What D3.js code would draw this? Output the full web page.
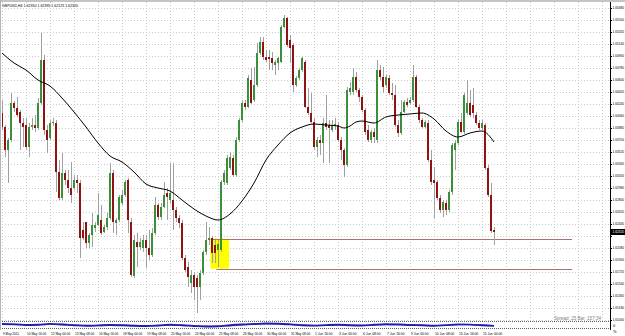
<!DOCTYPE html>
<html>
<head>
<meta charset="utf-8">
<script src="https://cdn.jsdelivr.net/npm/d3@7"></script>
<style>
html, body { margin: 0; padding: 0; background: #ffffff; }
svg { display: block; font-family: "Liberation Sans", Arial, sans-serif; }
</style>
</head>
<body>
<div id="chart"></div>
<script>
// GBPUSD H4, 9 May 2011 .. 15 Jun 2011
var symbol = 'GBPUSD,H4';
var open = [1.64105,1.63895,1.6355,1.637,1.64255,1.6418,1.6412,1.63955,1.63925,1.63595,1.63895,1.63925,1.6388,1.64255,1.649,1.6385,1.6373,1.63955,1.63955,1.6322,1.6283,1.63205,1.631,1.6298,1.6298,1.631,1.63055,1.6235,1.6247,1.62155,1.62275,1.6238,1.62425,1.625,1.6232,1.62395,1.6253,1.63205,1.62455,1.625,1.62755,1.62875,1.631,1.6247,1.6166,1.6217,1.62095,1.6208,1.622,1.6208,1.61975,1.62305,1.62725,1.62545,1.62695,1.62905,1.628,1.628,1.6265,1.6253,1.62455,1.6193,1.61795,1.61555,1.61675,1.6163,1.61495,1.61705,1.6202,1.622,1.6223,1.62125,1.6205,1.6205,1.6307,1.63055,1.6328,1.6343,1.63175,1.637,1.64,1.64255,1.64195,1.646,1.643,1.64525,1.65005,1.6517,1.64945,1.64945,1.6493,1.64825,1.64855,1.6487,1.65395,1.6553,1.652,1.65125,1.64525,1.6463,1.6475,1.6487,1.64195,1.64105,1.6397,1.63595,1.637,1.63655,1.63955,1.63925,1.6385,1.6391,1.63925,1.637,1.6355,1.63325,1.6442,1.6442,1.64645,1.6445,1.64345,1.6415,1.6385,1.637,1.6382,1.637,1.6475,1.64645,1.64525,1.6463,1.64405,1.64375,1.63925,1.63805,1.6412,1.6427,1.64255,1.643,1.64645,1.64195,1.64,1.63895,1.63955,1.634,1.631,1.6307,1.6283,1.6265,1.62755,1.6265,1.6292,1.6355,1.63655,1.6397,1.6382,1.64105,1.64255,1.64225,1.64075,1.63955,1.6388,1.63925,1.6328,1.62875,1.6235];
var high = [1.643,1.63925,1.6373,1.64405,1.64285,1.64345,1.6415,1.6403,1.6403,1.63955,1.6403,1.64075,1.6433,1.65305,1.64975,1.63925,1.64,1.6403,1.64,1.634,1.63505,1.6325,1.6325,1.6337,1.63175,1.63175,1.631,1.6247,1.6247,1.62305,1.62605,1.6247,1.62905,1.62725,1.62425,1.62605,1.63355,1.6325,1.6253,1.62875,1.6295,1.631,1.6313,1.6253,1.62275,1.62305,1.6223,1.62275,1.62275,1.6235,1.6238,1.62845,1.62755,1.62755,1.6307,1.6298,1.63355,1.63355,1.62695,1.62575,1.625,1.61975,1.6187,1.6175,1.6172,1.61675,1.6175,1.6205,1.6247,1.62395,1.6226,1.622,1.622,1.631,1.6325,1.63475,1.6352,1.63475,1.63745,1.6403,1.643,1.643,1.64675,1.6478,1.64795,1.65155,1.65245,1.65245,1.6505,1.6505,1.6502,1.649,1.64945,1.65425,1.65575,1.65545,1.65275,1.65155,1.6466,1.6478,1.64945,1.649,1.6448,1.64405,1.6403,1.63745,1.63775,1.6403,1.64375,1.64,1.64,1.6403,1.6397,1.63745,1.6358,1.64495,1.6457,1.6478,1.6472,1.6448,1.64375,1.6418,1.63925,1.6385,1.6388,1.649,1.64825,1.64795,1.64675,1.64675,1.64555,1.64525,1.64,1.643,1.643,1.6433,1.64345,1.64825,1.64675,1.64225,1.6403,1.64,1.64,1.6355,1.63295,1.631,1.62875,1.628,1.628,1.6295,1.63655,1.637,1.64,1.64105,1.64405,1.646,1.6445,1.6448,1.6412,1.64,1.64,1.63955,1.63325,1.63055,1.62395];
var low = [1.6385,1.63445,1.63055,1.6367,1.6412,1.64045,1.6355,1.63595,1.6355,1.63445,1.6385,1.6382,1.6385,1.64225,1.63775,1.63505,1.637,1.6391,1.6292,1.628,1.628,1.63025,1.62905,1.62755,1.6295,1.62905,1.6193,1.622,1.6208,1.6208,1.62095,1.6232,1.6241,1.62275,1.62305,1.6235,1.625,1.62305,1.62275,1.6247,1.62725,1.62845,1.62305,1.61645,1.6163,1.61795,1.6205,1.6202,1.6178,1.619,1.61945,1.62275,1.625,1.625,1.6268,1.625,1.62755,1.6235,1.6247,1.6238,1.619,1.6172,1.61495,1.61405,1.613,1.61105,1.613,1.61675,1.61975,1.62125,1.61855,1.61855,1.61795,1.6202,1.63025,1.63025,1.6325,1.63145,1.63145,1.6367,1.6397,1.6415,1.6418,1.6424,1.6427,1.64495,1.64975,1.649,1.6487,1.6475,1.6475,1.64675,1.6475,1.64855,1.6538,1.65095,1.64855,1.6442,1.64495,1.646,1.6472,1.6418,1.64075,1.63955,1.6355,1.63445,1.63475,1.63355,1.6385,1.63355,1.6382,1.6385,1.6367,1.634,1.63145,1.63295,1.64375,1.64375,1.6442,1.6427,1.6412,1.63775,1.6367,1.63655,1.63655,1.63655,1.646,1.64405,1.6448,1.64375,1.643,1.63895,1.63745,1.63775,1.64105,1.64195,1.64225,1.6427,1.6418,1.63955,1.6388,1.6388,1.6337,1.63025,1.6253,1.628,1.62605,1.62545,1.62575,1.6262,1.62875,1.6325,1.63625,1.63805,1.6379,1.64075,1.64045,1.6403,1.63925,1.6385,1.6385,1.6325,1.62845,1.62305,1.62125];
var close = [1.63895,1.6355,1.637,1.64255,1.6418,1.64075,1.63955,1.63895,1.63595,1.63895,1.63925,1.6388,1.64255,1.649,1.6385,1.637,1.63955,1.6397,1.6322,1.6283,1.63205,1.631,1.6298,1.62875,1.631,1.63055,1.6223,1.6223,1.62155,1.62275,1.62425,1.62425,1.62575,1.62305,1.62395,1.6253,1.63205,1.6247,1.625,1.62845,1.62875,1.6307,1.625,1.61675,1.622,1.62095,1.6217,1.622,1.6208,1.61975,1.62305,1.62725,1.62545,1.62695,1.62875,1.62845,1.62905,1.6265,1.6253,1.62455,1.6193,1.6175,1.61645,1.61675,1.61495,1.61495,1.61705,1.6202,1.622,1.6223,1.62005,1.62005,1.6214,1.6307,1.63205,1.6343,1.63445,1.63175,1.637,1.64,1.64255,1.64195,1.6463,1.64255,1.64525,1.65005,1.6517,1.64945,1.649,1.64915,1.64855,1.6487,1.6493,1.65395,1.6553,1.65125,1.6508,1.64525,1.6463,1.6475,1.6493,1.64195,1.64105,1.6397,1.63595,1.637,1.63655,1.63955,1.63895,1.6388,1.63925,1.6394,1.637,1.6355,1.63325,1.6445,1.6448,1.64645,1.6445,1.64345,1.6415,1.6382,1.637,1.6382,1.63745,1.6475,1.64645,1.64495,1.64645,1.64405,1.64375,1.63925,1.63805,1.6412,1.6427,1.64225,1.643,1.64645,1.64195,1.64,1.63895,1.6397,1.634,1.6307,1.63055,1.6283,1.6265,1.6277,1.6265,1.6292,1.63625,1.63655,1.6397,1.6382,1.64375,1.64255,1.64075,1.64105,1.63955,1.6388,1.63955,1.6328,1.62875,1.62335,1.6232];

// moving average read at every 4th bar (plus two extra points)
var maBars = [0,4,8,12,16,20,24,28,32,36,40,44,48,52,56,60,64,68,72,76,80,84,88,92,96,100,104,108,112,114,116,118,120,124,128,132,136,140,144,148,152,156,160,164];
var maValues = [1.65005,1.64855,1.6475,1.646,1.6451,1.6433,1.6412,1.63895,1.63655,1.6346,1.6337,1.6322,1.6304,1.6298,1.62935,1.628,1.62665,1.6256,1.625,1.6259,1.62785,1.63055,1.634,1.63625,1.63805,1.63895,1.6394,1.63925,1.6391,1.6388,1.6391,1.6397,1.63985,1.63955,1.64045,1.64075,1.6409,1.64105,1.64015,1.63835,1.63745,1.63805,1.63835,1.6367];

// oscillator in the lower window, read at every 4th bar
var oscBars = [0,4,8,12,16,20,24,28,32,36,40,44,48,52,56,60,64,68,72,76,80,84,88,92,96,100,104,108,112,116,120,124,128,132,136,140,144,148,152,156,160,164];
var oscMain = [70,62,50,55,72,60,45,35,42,50,45,35,30,40,55,45,30,20,25,45,60,70,80,75,62,45,38,48,55,45,40,55,65,60,50,45,35,48,62,58,45,30];
var oscSignal = [60,66,58,52,62,66,55,42,38,46,48,42,34,36,46,50,40,28,22,34,50,62,72,78,70,55,42,44,50,50,44,48,58,62,56,48,40,42,54,60,52,40];

// price scale labels
var priceTicks = [1.6568,1.655,1.6532,1.6514,1.6496,1.6478,1.646,1.6442,1.6424,1.6406,1.6388,1.637,1.6352,1.6334,1.6316,1.6298,1.628,1.6262,1.6244,1.6226,1.6208,1.619,1.6172,1.6154,1.6136,1.6118,1.61];

// time scale labels, one every 8 bars
var timeLabels = ['9 May 2011','10 May 16:00','12 May 00:00','13 May 08:00','16 May 16:00','18 May 00:00','19 May 08:00','20 May 16:00','24 May 00:00','25 May 08:00','26 May 16:00','30 May 00:00','31 May 08:00','1 Jun 16:00','3 Jun 00:00','6 Jun 08:00','7 Jun 16:00','9 Jun 00:00','10 Jun 08:00','13 Jun 16:00','15 Jun 00:00'];

// support zone and its two levels
var zoneBars = [69.5, 75.7];
var zonePrices = [1.6222, 1.6177];
var levelStartBars = [69.5, 71.5];
var levelEndBar = 190;

var infoText = 'Spread: 25  Bar: 157:34';

function drawChart() {
    var width = 625, height = 336;
    var plotLeft = 2, plotRight = 610, plotTop = 2, plotBottom = 321;
    var subTop = 322, subBottom = 328;

    var svg = d3.select('#chart').append('svg')
        .attr('width', width)
        .attr('height', height);

    var x = d3.scaleLinear().domain([0, 200]).range([2, 602]);
    var y = d3.scaleLinear().domain([1.658, 1.61]).range([0, 320]);
    var yOsc = d3.scaleLinear().domain([0, 100]).range([subBottom - 0.5, subTop + 0.5]);

    svg.append('rect').attr('width', width).attr('height', height).attr('fill', '#ffffff');

    svg.append('defs').append('clipPath').attr('id', 'plot')
        .append('rect')
        .attr('x', plotLeft).attr('y', plotTop)
        .attr('width', plotRight - plotLeft).attr('height', plotBottom - plotTop);

    // grid
    var grid = svg.append('g').attr('stroke', '#c8c8c8').attr('stroke-dasharray', '1,2');
    grid.selectAll('line.h')
        .data(priceTicks)
        .enter()
        .append('line')
        .attr('x1', plotLeft).attr('x2', plotRight)
        .attr('y1', function(d) { return Math.round(y(d)) + 0.5; })
        .attr('y2', function(d) { return Math.round(y(d)) + 0.5; });
    grid.selectAll('line.v')
        .data(d3.range(0, 26))
        .enter()
        .append('line')
        .attr('x1', function(d) { return Math.round(x(d * 8)) + 0.5; })
        .attr('x2', function(d) { return Math.round(x(d * 8)) + 0.5; })
        .attr('y1', plotTop).attr('y2', plotBottom);

    var plot = svg.append('g').attr('clip-path', 'url(#plot)');

    // yellow zone
    plot.append('rect')
        .attr('x', x(zoneBars[0]))
        .attr('y', y(zonePrices[0]))
        .attr('width', x(zoneBars[1]) - x(zoneBars[0]))
        .attr('height', y(zonePrices[1]) - y(zonePrices[0]))
        .attr('fill', '#ffff00');

    // levels
    plot.selectAll('line.level')
        .data(zonePrices)
        .enter()
        .append('line')
        .attr('stroke', '#b07070')
        .attr('x1', function(d, i) { return x(levelStartBars[i]); })
        .attr('x2', x(levelEndBar))
        .attr('y1', function(d) { return Math.round(y(d)) + 0.5; })
        .attr('y2', function(d) { return Math.round(y(d)) + 0.5; });

    // candles
    var candles = plot.selectAll('g.candle')
        .data(close)
        .enter()
        .append('g');

    candles.append('line')
        .attr('stroke', '#a0a0a0')
        .attr('x1', function(d, i) { return Math.round(x(i)) + 0.5; })
        .attr('x2', function(d, i) { return Math.round(x(i)) + 0.5; })
        .attr('y1', function(d, i) { return y(high[i]); })
        .attr('y2', function(d, i) { return y(low[i]); });

    candles.append('rect')
        .attr('x', function(d, i) { return Math.round(x(i)) - 1; })
        .attr('width', 2)
        .attr('y', function(d, i) { return y(Math.max(open[i], d)); })
        .attr('height', function(d, i) { return Math.max(1, Math.abs(y(open[i]) - y(d))); })
        .attr('fill', function(d, i) { return d >= open[i] ? '#3a8f3a' : '#8e1414'; });

    // moving average
    var maLine = d3.line()
        .x(function(d, i) { return x(maBars[i]); })
        .y(function(d) { return y(d); })
        .curve(d3.curveMonotoneX);
    plot.append('path')
        .attr('d', maLine(maValues))
        .attr('fill', 'none')
        .attr('stroke', '#000000')
        .attr('stroke-width', 1);

    // lower window
    svg.append('line').attr('x1', 0).attr('x2', plotRight).attr('y1', subTop - 0.5).attr('y2', subTop - 0.5)
        .attr('stroke', '#606060').attr('stroke-dasharray', '1,1');
    svg.append('line').attr('x1', 0).attr('x2', plotRight).attr('y1', subBottom + 0.5).attr('y2', subBottom + 0.5)
        .attr('stroke', '#606060').attr('stroke-dasharray', '1,1');

    var oscLine = d3.line()
        .x(function(d, i) { return x(oscBars[i]); })
        .y(function(d) { return yOsc(d); })
        .curve(d3.curveMonotoneX);
    svg.append('path').attr('d', oscLine(oscSignal)).attr('fill', 'none').attr('stroke', '#9a70d0').attr('stroke-width', 1.2);
    svg.append('path').attr('d', oscLine(oscMain)).attr('fill', 'none').attr('stroke', '#2020b0').attr('stroke-width', 1.8);

    // frame
    svg.append('rect').attr('x', 0).attr('y', 0).attr('width', width).attr('height', 2).attr('fill', '#c4c4c4');
    svg.append('rect').attr('x', 0).attr('y', 0).attr('width', 1).attr('height', 330).attr('fill', '#b4b4b4');
    svg.append('line').attr('x1', plotRight + 0.5).attr('x2', plotRight + 0.5).attr('y1', 2).attr('y2', 330)
        .attr('stroke', '#000000');

    // price axis
    var last = close[close.length - 1];
    var axis = svg.append('g').attr('font-size', '3.6px').attr('fill', '#000000');
    axis.selectAll('line')
        .data(priceTicks)
        .enter()
        .append('line')
        .attr('stroke', '#000000')
        .attr('x1', plotRight).attr('x2', plotRight + 2)
        .attr('y1', function(d) { return Math.round(y(d)) + 0.5; })
        .attr('y2', function(d) { return Math.round(y(d)) + 0.5; });
    axis.selectAll('text')
        .data(priceTicks.filter(function(d) { return Math.abs(y(d) - y(last)) > 5; }))
        .enter()
        .append('text')
        .attr('x', plotRight + 2.5)
        .attr('y', function(d) { return y(d) + 1.4; })
        .attr('textLength', 11.5)
        .attr('lengthAdjust', 'spacingAndGlyphs')
        .text(function(d) { return d.toFixed(5); });

    // current price box
    svg.append('rect')
        .attr('x', plotRight + 1).attr('y', y(last) - 3)
        .attr('width', width - plotRight - 1).attr('height', 6)
        .attr('fill', '#000000');
    svg.append('text')
        .attr('x', plotRight + 2.5).attr('y', y(last) + 1.4)
        .attr('font-size', '3.6px').attr('fill', '#ffffff')
        .attr('textLength', 11.5)
        .attr('lengthAdjust', 'spacingAndGlyphs')
        .text(last.toFixed(5));

    svg.append('text').attr('x', plotRight + 3).attr('y', 327).attr('font-size', '4px').text('0');
    svg.append('text').attr('x', plotRight + 3).attr('y', 333).attr('font-size', '4px').text('%');

    // time axis
    svg.append('g').attr('font-size', '3.6px').attr('fill', '#000000')
        .selectAll('text')
        .data(timeLabels)
        .enter()
        .append('text')
        .attr('x', function(d, i) { return x(i * 8) + 1; })
        .attr('y', 334.5)
        .attr('textLength', function(d) { return d.length * 1.6; })
        .attr('lengthAdjust', 'spacingAndGlyphs')
        .text(function(d) { return d; });

    // title and info
    var n = close.length - 1;
    svg.append('text').attr('x', 2).attr('y', 6.5).attr('font-size', '4.2px').attr('fill', '#000000')
        .attr('textLength', 76)
        .attr('lengthAdjust', 'spacingAndGlyphs')
        .text(symbol + '  ' + open[n].toFixed(5) + ' ' + high[n].toFixed(5) + ' ' + low[n].toFixed(5) + ' ' + close[n].toFixed(5));
    svg.append('text').attr('x', 601).attr('y', 319.5).attr('text-anchor', 'end')
        .attr('font-size', '5px').attr('fill', '#808080')
        .attr('textLength', 47)
        .attr('lengthAdjust', 'spacingAndGlyphs')
        .text(infoText);
}

drawChart();
</script>
</body>
</html>
